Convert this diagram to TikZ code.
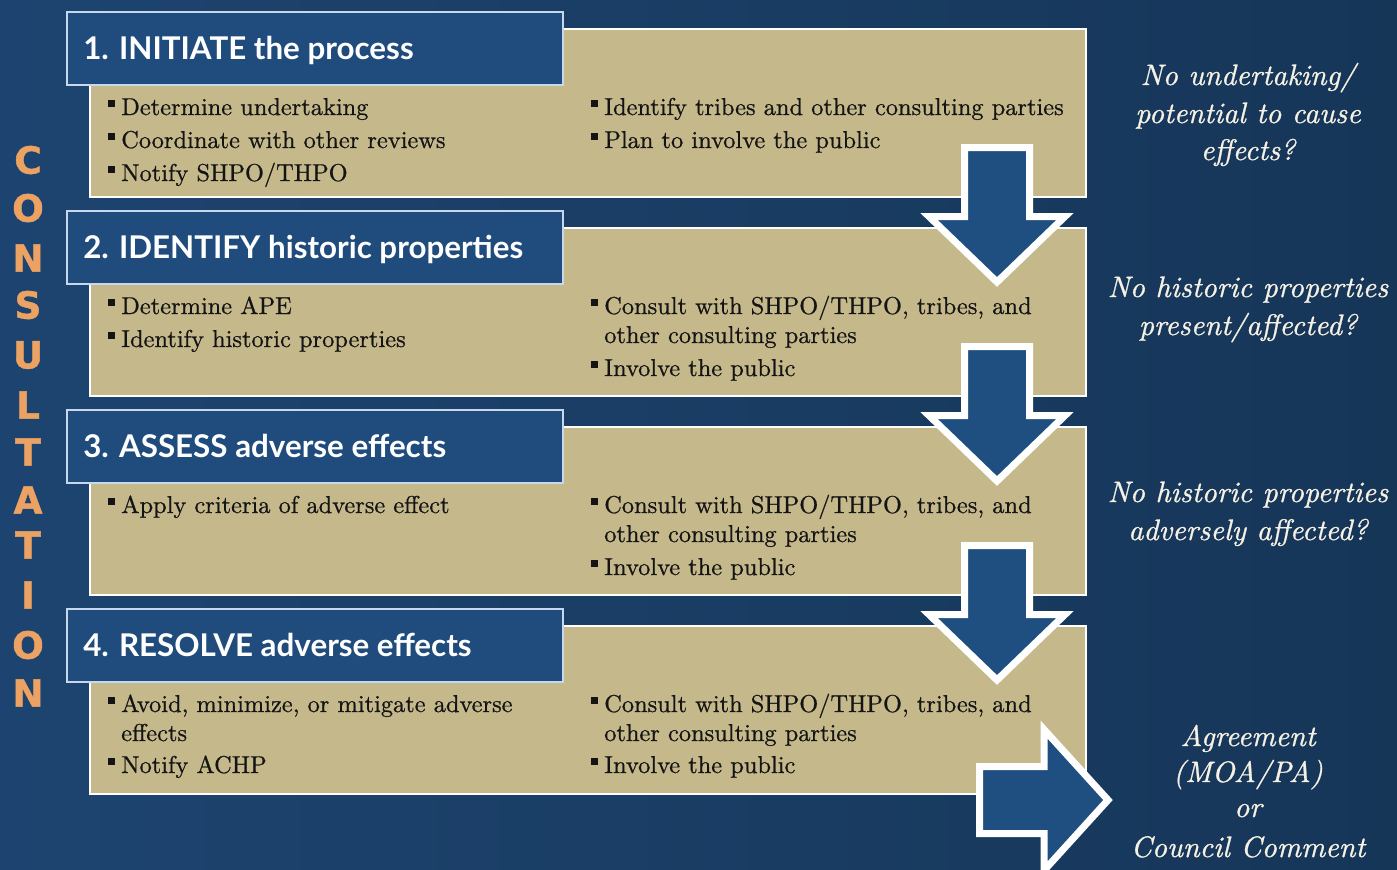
\documentclass[tikz,border=0pt]{standalone}
\usepackage{fontspec}
\newfontfamily\latofam{Lato}
\newfontfamily\dejafam{DejaVu Sans}[FakeBold=1.2]
\newfontfamily\bodyfam{lmroman10-regular.otf}[FakeBold=0.7]
\newfontfamily\sidefam{lmroman10-italic.otf}[FakeBold=0.9]
\definecolor{bgA}{HTML}{1D4470}
\definecolor{bgB}{HTML}{163658}
\definecolor{tabblue}{HTML}{1F4C7C}
\definecolor{tanfill}{HTML}{C5B98B}
\definecolor{arrowblue}{HTML}{1E4F80}
\definecolor{orng}{HTML}{EBA262}
\definecolor{tabline}{HTML}{C8D8EC}
\definecolor{bodytext}{HTML}{141414}
\definecolor{sidetext}{HTML}{F6F1E4}
\newcommand\myBody{\bodyfam\fontsize{18.3}{20}\selectfont}
\newcommand\myTitle{\latofam\bfseries\fontsize{23.5}{25}\selectfont}
\newcommand\mySide{\sidefam\fontsize{22.2}{24}\selectfont}
\newcommand\myCons{\dejafam\bfseries\fontsize{28}{30}\selectfont}
\newcommand\bul{\makebox[9.75pt][l]{\rule[6.2pt]{5pt}{5pt}}}
\begin{document}
\begin{tikzpicture}[x=0.75pt,y=-0.75pt,
  tanbox/.style={fill=tanfill, draw=white, line width=1.5pt},
  tabbox/.style={fill=tabblue, draw=tabline, line width=1.2pt},
  bigarrow/.style={fill=arrowblue, draw=white, line width=5.25pt, line join=miter, miter limit=10},
  body/.style={anchor=base west, inner sep=0pt, font=\myBody, text=bodytext},
  ttl/.style={anchor=base west, inner sep=0pt, font=\myTitle, text=white},
  side/.style={anchor=base, inner sep=0pt, font=\mySide, text=sidetext},
  cons/.style={anchor=center, inner sep=0pt, font=\myCons, text=orng}]
\useasboundingbox (0,0) rectangle (1397,869);
\clip (0,0) rectangle (1397,869);
\shade[left color=bgA, right color=bgB] (0,0) rectangle (1397,869);
% boxes
\foreach \i in {0,1,2,3}{
  \draw[tanbox] (90,29+199*\i) rectangle (1086,197+199*\i);
  \draw[tabbox] (67,12+199*\i) rectangle (563,85+199*\i);
}
% down arrows
\foreach \i in {0,1,2}{
  \draw[bigarrow] (964.5,147.5+199*\i) -- (1029.5,147.5+199*\i) -- (1029.5,216.5+199*\i)
    -- (1065,216.5+199*\i) -- (997,282+199*\i) -- (929,216.5+199*\i) -- (964.5,216.5+199*\i) -- cycle;
}
% right arrow
\draw[bigarrow] (979.5,766.5) -- (1044,766.5) -- (1044,729.5) -- (1108,800) -- (1044,870.5)
  -- (1044,833.5) -- (979.5,833.5) -- cycle;
% titles
\node[ttl] (t1) at (83,59) {1. INITIATE the process};
\node[ttl] (t2) at (83,258) {2. IDENTIFY historic properties};
\node[ttl] (t3) at (83,457) {3. ASSESS adverse effects};
\node[ttl] (t4) at (83,656) {4. RESOLVE adverse effects};
% box 1
\node[body] (b1a) at (108,115) {\bul Determine undertaking};
\node[body] (b1b) at (108,148) {\bul Coordinate with other reviews};
\node[body] (b1c) at (108,181) {\bul Notify SHPO/THPO};
\node[body] (b1d) at (591,115) {\bul Identify tribes and other consulting parties};
\node[body] (b1e) at (591,148) {\bul Plan to involve the public};
% box 2
\node[body] (b2a) at (108,314) {\bul Determine APE};
\node[body] (b2b) at (108,347) {\bul Identify historic properties};
\node[body] (b2c) at (591,314) {\bul Consult with SHPO/THPO, tribes, and};
\node[body] (b2d) at (604,343) {other consulting parties};
\node[body] (b2e) at (591,376) {\bul Involve the public};
% box 3
\node[body] (b3a) at (108,513) {\bul Apply criteria of adverse effect};
\node[body] (b3c) at (591,513) {\bul Consult with SHPO/THPO, tribes, and};
\node[body] (b3d) at (604,542) {other consulting parties};
\node[body] (b3e) at (591,575) {\bul Involve the public};
% box 4
\node[body] (b4a) at (108,712) {\bul Avoid, minimize, or mitigate adverse};
\node[body] (b4b) at (121,741) {effects};
\node[body] (b4c) at (108,773) {\bul Notify ACHP};
\node[body] (b4d) at (591,712) {\bul Consult with SHPO/THPO, tribes, and};
\node[body] (b4e) at (604,741) {other consulting parties};
\node[body] (b4f) at (591,773) {\bul Involve the public};
% side texts
\node[side] (s1a) at (1248,85) {No undertaking/};
\node[side] (s1b) at (1248,123) {potential to cause};
\node[side] (s1c) at (1248,160) {effects?};
\node[side] (s2a) at (1248,297) {No historic properties};
\node[side] (s2b) at (1248,335) {present/affected?};
\node[side] (s3a) at (1248,502) {No historic properties};
\node[side] (s3b) at (1248,540) {adversely affected?};
\node[side] (s4a) at (1248,746) {Agreement};
\node[side] (s4b) at (1248,782) {(MOA/PA)};
\node[side] (s4c) at (1248,817) {or};
\node[side] (s4d) at (1248,857) {Council Comment};
% CONSULTATION
\foreach \L/\y [count=\k] in {C/160,O/208,N/258,S/305,U/355,L/405,T/452,A/500,T/545,I/595,O/645,N/693}{
  \node[cons] (cons\k) at (28,\y) {\L};
}
\end{tikzpicture}
\end{document}
